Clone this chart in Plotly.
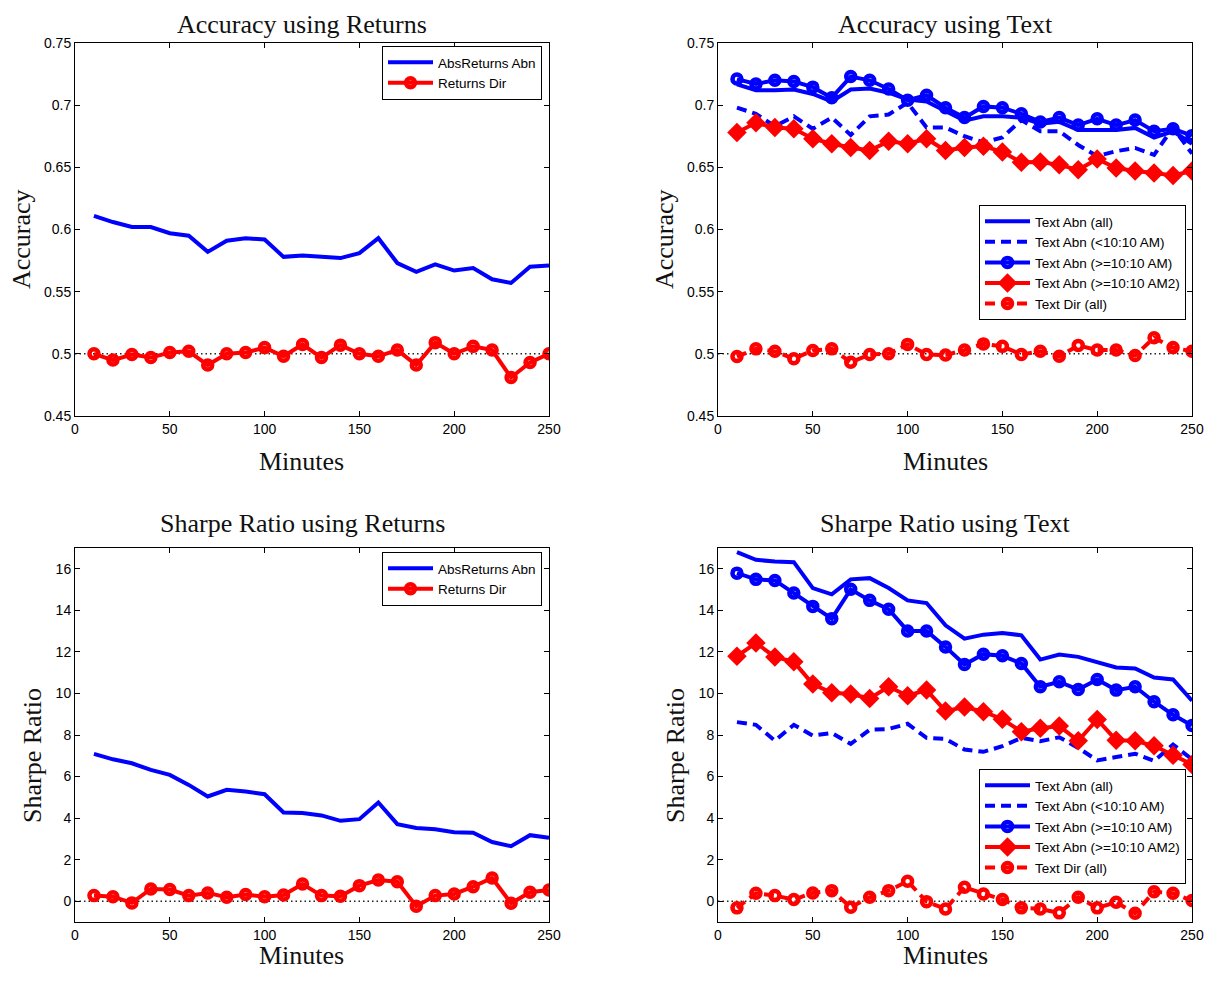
import plotly.graph_objects as go

minutes = list(range(10, 260, 10))

# Accuracy using Returns
acc_abs_returns_abn = [0.611, 0.606, 0.602, 0.602, 0.597, 0.595, 0.582, 0.591, 0.593, 0.592,
                       0.578, 0.579, 0.578, 0.577, 0.581, 0.593, 0.573, 0.566, 0.572, 0.567,
                       0.569, 0.560, 0.557, 0.570, 0.571]
acc_returns_dir = [0.500, 0.495, 0.4995, 0.497, 0.501, 0.502, 0.491, 0.500, 0.501, 0.505,
                   0.498, 0.5075, 0.497, 0.507, 0.500, 0.498, 0.503, 0.491, 0.509, 0.500,
                   0.506, 0.503, 0.481, 0.493, 0.500]

# Accuracy using Text
acc_text_abn_all = [0.7167, 0.712, 0.712, 0.7126, 0.709, 0.703, 0.7126, 0.7134, 0.710, 0.7046,
                    0.703, 0.695, 0.6876, 0.691, 0.691, 0.690, 0.685, 0.6866, 0.680, 0.680,
                    0.680, 0.6817, 0.674, 0.679, 0.669]
acc_text_abn_early = [0.698, 0.693, 0.683, 0.691, 0.681, 0.690, 0.676, 0.691, 0.6925, 0.702,
                      0.682, 0.682, 0.675, 0.670, 0.674, 0.688, 0.679, 0.679, 0.668, 0.659,
                      0.663, 0.6656, 0.660, 0.682, 0.661]
acc_text_abn_late = [0.721, 0.717, 0.720, 0.719, 0.7145, 0.706, 0.723, 0.720, 0.713, 0.704,
                     0.708, 0.698, 0.690, 0.699, 0.698, 0.693, 0.6865, 0.690, 0.684, 0.689,
                     0.684, 0.688, 0.679, 0.681, 0.6755]
acc_text_abn_late2 = [0.678, 0.6858, 0.682, 0.681, 0.673, 0.669, 0.666, 0.6635, 0.671, 0.669,
                      0.673, 0.6635, 0.666, 0.667, 0.6624, 0.654, 0.6543, 0.652, 0.648, 0.6567,
                      0.6495, 0.647, 0.6454, 0.6435, 0.647]
acc_text_dir_all = [0.4978, 0.504, 0.502, 0.496, 0.5027, 0.504, 0.4932, 0.4995, 0.500, 0.5076,
                    0.4995, 0.499, 0.503, 0.508, 0.506, 0.4995, 0.502, 0.498, 0.5068, 0.503,
                    0.503, 0.4986, 0.513, 0.505, 0.502]

# Sharpe Ratio using Returns
sr_abs_returns_abn = [7.09, 6.83, 6.64, 6.32, 6.08, 5.60, 5.04, 5.36, 5.28, 5.15,
                      4.27, 4.24, 4.13, 3.87, 3.95, 4.75, 3.71, 3.52, 3.46, 3.32,
                      3.30, 2.85, 2.65, 3.18, 3.05]
sr_returns_dir = [0.27, 0.22, -0.08, 0.59, 0.56, 0.27, 0.40, 0.19, 0.32, 0.22,
                  0.30, 0.83, 0.27, 0.24, 0.75, 1.02, 0.94, -0.24, 0.27, 0.35,
                  0.70, 1.12, -0.10, 0.43, 0.54]

# Sharpe Ratio using Text
sr_text_abn_all = [16.80, 16.43, 16.35, 16.32, 15.07, 14.77, 15.49, 15.55, 15.07, 14.48,
                   14.35, 13.28, 12.64, 12.83, 12.91, 12.80, 11.63, 11.87, 11.76, 11.52,
                   11.25, 11.20, 10.77, 10.67, 9.65]
sr_text_abn_early = [8.62, 8.49, 7.73, 8.49, 7.97, 8.10, 7.57, 8.25, 8.29, 8.54,
                     7.86, 7.81, 7.30, 7.19, 7.46, 7.86, 7.70, 7.89, 7.38, 6.78,
                     6.94, 7.10, 6.75, 7.54, 6.83]
sr_text_abn_late = [15.79, 15.49, 15.44, 14.83, 14.19, 13.60, 15.01, 14.48, 14.05, 13.01,
                    13.01, 12.24, 11.39, 11.89, 11.81, 11.44, 10.32, 10.56, 10.19, 10.67,
                    10.16, 10.32, 9.60, 8.97, 8.46]
sr_text_abn_late2 = [11.79, 12.43, 11.76, 11.52, 10.45, 10.03, 9.97, 9.76, 10.32, 9.89,
                     10.16, 9.15, 9.35, 9.12, 8.76, 8.16, 8.32, 8.43, 7.72, 8.75,
                     7.75, 7.72, 7.48, 7.02, 6.58]
sr_text_dir_all = [-0.32, 0.38, 0.27, 0.08, 0.40, 0.51, -0.29, 0.19, 0.51, 0.96,
                   -0.02, -0.37, 0.67, 0.35, 0.08, -0.32, -0.37, -0.56, 0.19, -0.32,
                   -0.05, -0.58, 0.46, 0.38, 0.03]

baseline_x = [0, 250]
acc_baseline = [0.5, 0.5]
sr_baseline = [0, 0]

BLUE = "#0000ff"
RED = "#ff0000"
# page body has an 8px margin; figure sized so that page == 1217x981 window
OFF = 8
W = 1217 - 2 * OFF
H = 981 - 2 * OFF

fig = go.Figure()


def base_line(xa, ya, yvals):
    fig.add_trace(go.Scatter(x=baseline_x, y=yvals, mode="lines", xaxis=xa, yaxis=ya,
                             line=dict(color="#222222", width=1.5, dash="1.5px,3px"),
                             showlegend=False, hoverinfo="skip"))


def solid(xa, ya, y, name, leg, dash="solid"):
    fig.add_trace(go.Scatter(x=minutes, y=y, mode="lines", name=name, xaxis=xa, yaxis=ya,
                             legend=leg, line=dict(color=BLUE, width=4, dash=dash)))


def circles(xa, ya, y, name, leg, color, dash="solid"):
    fig.add_trace(go.Scatter(x=minutes, y=y, mode="lines+markers", name=name, xaxis=xa, yaxis=ya,
                             legend=leg, line=dict(color=color, width=4, dash=dash),
                             marker=dict(symbol="circle-open", size=9, color=color,
                                         line=dict(width=4.5, color=color))))


def diamonds(xa, ya, y, name, leg):
    fig.add_trace(go.Scatter(x=minutes, y=y, mode="lines+markers", name=name, xaxis=xa, yaxis=ya,
                             legend=leg, line=dict(color=RED, width=4),
                             marker=dict(symbol="diamond", size=15, color=RED)))


# Panel 1
base_line("x", "y", acc_baseline)
solid("x", "y", acc_abs_returns_abn, "AbsReturns Abn", "legend")
circles("x", "y", acc_returns_dir, "Returns Dir", "legend", RED)

# Panel 2
base_line("x2", "y2", acc_baseline)
solid("x2", "y2", acc_text_abn_all, "Text Abn (all)", "legend2")
solid("x2", "y2", acc_text_abn_early, "Text Abn (<10:10 AM)", "legend2", dash="10px,6px")
circles("x2", "y2", acc_text_abn_late, "Text Abn (>=10:10 AM)", "legend2", BLUE)
diamonds("x2", "y2", acc_text_abn_late2, "Text Abn (>=10:10 AM2)", "legend2")
circles("x2", "y2", acc_text_dir_all, "Text Dir (all)", "legend2", RED, dash="10px,6px")

# Panel 3
base_line("x3", "y3", sr_baseline)
solid("x3", "y3", sr_abs_returns_abn, "AbsReturns Abn", "legend3")
circles("x3", "y3", sr_returns_dir, "Returns Dir", "legend3", RED)

# Panel 4
base_line("x4", "y4", sr_baseline)
solid("x4", "y4", sr_text_abn_all, "Text Abn (all)", "legend4")
solid("x4", "y4", sr_text_abn_early, "Text Abn (<10:10 AM)", "legend4", dash="10px,6px")
circles("x4", "y4", sr_text_abn_late, "Text Abn (>=10:10 AM)", "legend4", BLUE)
diamonds("x4", "y4", sr_text_abn_late2, "Text Abn (>=10:10 AM2)", "legend4")
circles("x4", "y4", sr_text_dir_all, "Text Dir (all)", "legend4", RED, dash="10px,6px")


def xp(px):
    return (px - OFF) / W


def yp(py):
    return 1 - (py - OFF) / H


# plot-area geometry in window pixels
left_x = (75, 549)
right_x = (718, 1192)
top_y = (43, 416)
bot_y = (548, 922)


def xd(p):
    return [xp(p[0]), xp(p[1])]


def yd(p):
    return [yp(p[1]), yp(p[0])]


tickfont = dict(family="Liberation Sans, Arial, sans-serif", size=14, color="black")
common_x = dict(range=[0, 250], dtick=50, tick0=0, ticks="inside", ticklen=5, tickcolor="black",
                showline=True, linecolor="black", linewidth=1, mirror="ticks", showgrid=False,
                zeroline=False, tickfont=tickfont)
common_y = dict(ticks="inside", ticklen=5, tickcolor="black", showline=True, linecolor="black",
                linewidth=1, mirror="ticks", showgrid=False, zeroline=False, tickfont=tickfont)

fig.update_layout(
    width=W, height=H,
    margin=dict(l=0, r=0, t=0, b=0, autoexpand=False),
    paper_bgcolor="white", plot_bgcolor="white",
    xaxis=dict(domain=xd(left_x), anchor="y", **common_x),
    yaxis=dict(domain=yd(top_y), anchor="x", range=[0.45, 0.75], dtick=0.05, tick0=0.45, **common_y),
    xaxis2=dict(domain=xd(right_x), anchor="y2", **common_x),
    yaxis2=dict(domain=yd(top_y), anchor="x2", range=[0.45, 0.75], dtick=0.05, tick0=0.45, **common_y),
    xaxis3=dict(domain=xd(left_x), anchor="y3", **common_x),
    yaxis3=dict(domain=yd(bot_y), anchor="x3", range=[-1, 17], tickvals=list(range(0, 17, 2)), **common_y),
    xaxis4=dict(domain=xd(right_x), anchor="y4", **common_x),
    yaxis4=dict(domain=yd(bot_y), anchor="x4", range=[-1, 17], tickvals=list(range(0, 17, 2)), **common_y),
)

legfont = dict(family="Liberation Sans, Arial, sans-serif", size=13.5, color="black")
legstyle = dict(bgcolor="white", bordercolor="black", borderwidth=1, font=legfont,
                xanchor="right", yanchor="top", itemwidth=45, tracegroupgap=0)
fig.update_layout(
    legend=dict(x=xp(542), y=yp(46), **legstyle),
    legend2=dict(x=xp(1186), y=yp(205), **legstyle),
    legend3=dict(x=xp(542), y=yp(552), **legstyle),
    legend4=dict(x=xp(1186), y=yp(769), **legstyle),
)

serif = "Liberation Serif, Times New Roman, serif"
# (text, x px, y px, angle, size, yanchor)
annos = [
    ("Accuracy using Returns", 302, 8, 0, 26, "top"),
    ("Accuracy using Text", 945, 8, 0, 26, "top"),
    ("Sharpe Ratio using Returns", 302, 523, 0, 26, "middle"),
    ("Sharpe Ratio using Text", 945, 523, 0, 26, "middle"),
    ("Minutes", 301, 461, 0, 26, "middle"),
    ("Minutes", 945, 461, 0, 26, "middle"),
    ("Minutes", 301, 972, 0, 26, "bottom"),
    ("Minutes", 945, 972, 0, 26, "bottom"),
    ("Accuracy", 21, 239, -90, 26, "middle"),
    ("Accuracy", 664, 239, -90, 26, "middle"),
    ("Sharpe Ratio", 32, 756, -90, 26, "middle"),
    ("Sharpe Ratio", 675, 756, -90, 26, "middle"),
]
for text, px, py, ang, sz, ya in annos:
    fig.add_annotation(text=text, x=xp(px), y=yp(py), xref="paper", yref="paper",
                       showarrow=False, textangle=ang, xanchor="center", yanchor=ya,
                       font=dict(family=serif, size=sz, color="#111111"))

fig.write_html("out.html")
